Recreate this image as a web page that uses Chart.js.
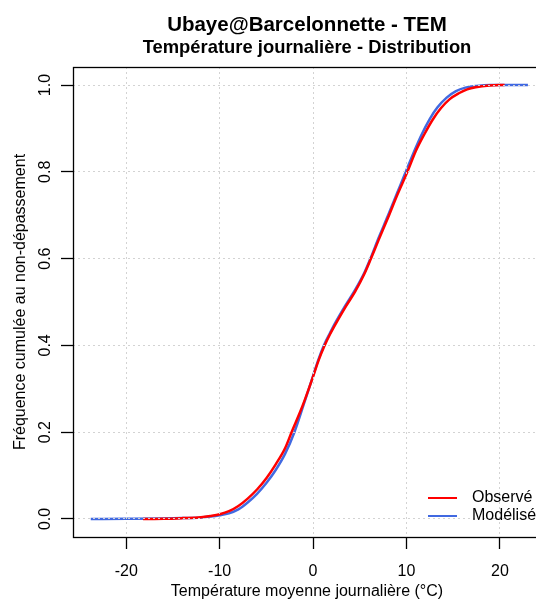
<!DOCTYPE html>
<html>
<head>
<meta charset="utf-8">
<script src="https://cdn.jsdelivr.net/npm/chart.js@4/dist/chart.umd.min.js"></script>
<style>
html,body{margin:0;padding:0;background:#fff;overflow:hidden;}
#wrap{position:relative;width:545px;height:601px;}
</style>
</head>
<body>
<div id="wrap"><canvas id="c" width="545" height="601"></canvas></div>
<script>
// ---- Data ----
const mainTitle = "Ubaye@Barcelonnette - TEM";
const subTitle = "Température journalière - Distribution";
const xLabel = "Température moyenne journalière (°C)";
const yLabel = "Fréquence cumulée au non-dépassement";
const seriesNames = ["Observé", "Modélisé"];

const xTicks = [-20, -10, 0, 10, 20];
const yTicks = [0, 0.2, 0.4, 0.6, 0.8, 1.0];

const obsT = [-18.2, -16, -14, -12, -11, -10, -9, -8, -7, -6, -5, -4, -3, -2.3, -1.1, 0, 0.6, 1.2, 1.8, 2.3, 3.4, 4.5, 5.5, 6.2, 7, 8, 9, 10.1, 11, 11.9, 12.8, 13.7, 14.6, 15.6, 16.5, 17.4, 18.9, 20.5];
const obsF = [0, 0.0005, 0.002, 0.004, 0.007, 0.011, 0.018, 0.03, 0.047, 0.068, 0.094, 0.126, 0.163, 0.2, 0.262, 0.328, 0.366, 0.398, 0.425, 0.445, 0.486, 0.524, 0.565, 0.6, 0.642, 0.693, 0.746, 0.8, 0.848, 0.886, 0.92, 0.947, 0.967, 0.981, 0.99, 0.995, 0.999, 1.0];

const modT = [-23.8, -20, -16, -14, -12, -11, -10, -9, -8, -7, -6, -5, -4, -3, -2, -1, 0, 0.6, 1.2, 1.8, 2.3, 3.4, 4.5, 5.5, 6.2, 7, 8, 9, 10, 11, 11.6, 12.5, 13.3, 14.3, 15.3, 16.3, 17.5, 19, 23];
const modF = [0, 0.0003, 0.001, 0.002, 0.0035, 0.0055, 0.0085, 0.013, 0.022, 0.038, 0.058, 0.083, 0.113, 0.15, 0.2, 0.264, 0.33, 0.369, 0.402, 0.428, 0.449, 0.49, 0.528, 0.568, 0.603, 0.647, 0.698, 0.751, 0.804, 0.856, 0.885, 0.922, 0.948, 0.971, 0.986, 0.994, 0.998, 1.0, 1.0];

const colors = ["#FF0000", "#4169E1"];
const FONT = "'Liberation Sans', Arial, sans-serif";

const toPts = (xs, ys) => xs.map((x, i) => ({x: x, y: ys[i]}));

const overlay = {
  id: 'overlay',
  afterDraw(chart) {
    const ctx = chart.ctx;
    const a = chart.chartArea;
    ctx.save();
    // box
    ctx.strokeStyle = '#000';
    ctx.lineWidth = 1.3;
    ctx.setLineDash([]);
    ctx.strokeRect(Math.round(a.left) + 0.5, Math.round(a.top) + 0.5, Math.round(a.right - a.left), Math.round(a.bottom - a.top));
    // titles
    ctx.fillStyle = '#000';
    ctx.textAlign = 'center';
    ctx.textBaseline = 'alphabetic';
    const cx = (a.left + a.right) / 2;
    ctx.font = "bold 20.5px " + FONT;
    ctx.fillText(mainTitle, cx, 30.5);
    ctx.font = "bold 18.4px " + FONT;
    ctx.fillText(subTitle, cx, 53);
    // legend
    ctx.font = "16px " + FONT;
    ctx.textAlign = 'left';
    ctx.textBaseline = 'middle';
    const ys = [498, 516];
    seriesNames.forEach((n, i) => {
      ctx.strokeStyle = colors[i];
      ctx.lineWidth = 2;
      ctx.beginPath();
      ctx.moveTo(428, ys[i]);
      ctx.lineTo(457, ys[i]);
      ctx.stroke();
      ctx.fillStyle = '#000';
      ctx.fillText(n, 472, ys[i]);
    });
    ctx.restore();
  }
};

new Chart(document.getElementById('c'), {
  type: 'scatter',
  data: {
    datasets: [
      {label: seriesNames[0], data: toPts(obsT, obsF), showLine: true, borderColor: colors[0], backgroundColor: colors[0], borderWidth: 2.5, pointRadius: 0, cubicInterpolationMode: 'monotone', fill: false},
      {label: seriesNames[1], data: toPts(modT, modF), showLine: true, borderColor: colors[1], backgroundColor: colors[1], borderWidth: 2.5, pointRadius: 0, cubicInterpolationMode: 'monotone', fill: false}
    ]
  },
  options: {
    responsive: false,
    devicePixelRatio: 1,
    animation: false,
    layout: {padding: {top: 67, right: 4, bottom: 0, left: 0}},
    plugins: {legend: {display: false}, tooltip: {enabled: false}, title: {display: false}},
    scales: {
      x: {
        type: 'linear', min: -25.7, max: 24.4,
        afterBuildTicks: s => { s.ticks = xTicks.map(v => ({value: v})); },
        afterFit: s => { s.height = 64; },
        grid: {color: '#D3D3D3', lineWidth: 1, z: 1, tickLength: 12, tickColor: '#000', tickWidth: 1.3},
        border: {display: false, dash: [2, 3]},
        ticks: {color: '#000', font: {family: FONT, size: 16}, padding: 13, maxRotation: 0, callback: v => String(v)},
        title: {display: true, text: xLabel, color: '#000', font: {family: FONT, size: 16}, padding: {top: 0, bottom: 0}}
      },
      y: {
        type: 'linear', min: -0.0415, max: 1.0415,
        afterBuildTicks: s => { s.ticks = yTicks.map(v => ({value: v})); },
        afterFit: s => { s.width = 73; },
        grid: {color: '#D3D3D3', lineWidth: 1, z: 1, tickLength: 12, tickColor: '#000', tickWidth: 1.3},
        border: {display: false, dash: [2, 3]},
        ticks: {color: '#000', font: {family: FONT, size: 16}, padding: 4, minRotation: 90, maxRotation: 90, crossAlign: 'center', callback: v => Number(v).toFixed(1)},
        title: {display: true, text: yLabel, color: '#000', font: {family: FONT, size: 16}, padding: {top: 11, bottom: 0}}
      }
    }
  },
  plugins: [overlay]
});
</script>
</body>
</html>
